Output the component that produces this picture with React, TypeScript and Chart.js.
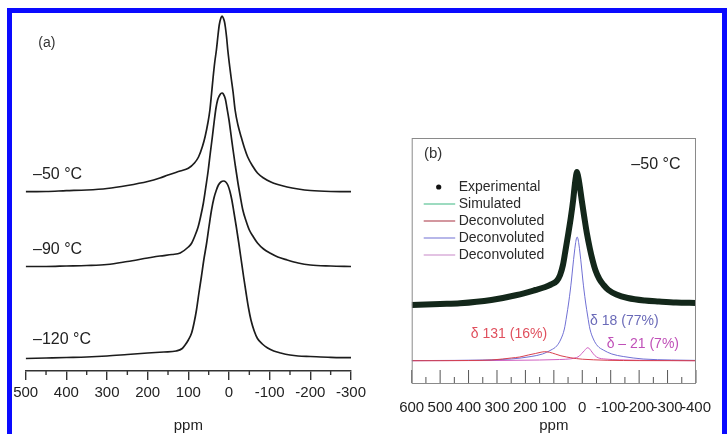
import React, { useEffect, useRef } from 'react';
import { Chart, registerables } from 'chart.js';
Chart.register(...registerables);

const FONT = '"Liberation Sans", Arial, Helvetica, sans-serif';

// ---------- Panel (a): spectra at three temperatures ----------
const ticksA = [500, 400, 300, 200, 100, 0, -100, -200, -300];
const minorA = [450, 350, 250, 150, 50, -50, -150, -250];

const a50Ppm = [500, 450, 400, 350, 300, 250, 200, 170, 150, 120, 100, 85, 75, 65, 59, 52, 47, 43, 39, 35, 31, 27, 24, 20, 17, 14, 11, 9, 6, 3, -5, -10, -15, -22, -30, -38, -46, -58, -70, -85, -103, -120, -143, -170, -200, -250, -300];
const a50Int = [179.3, 179.5, 180.3, 181, 182.5, 185.5, 189.5, 193, 196, 200, 202.7, 208, 214, 225, 234, 248, 261, 277, 294, 309, 321, 336, 346, 353, 355, 353, 349, 344, 334, 321, 294, 279, 261, 246, 234, 223, 214, 205, 198, 193, 189, 186.5, 184, 182, 180.5, 179.5, 179.3];

const a90Ppm = [500, 450, 400, 350, 300, 250, 200, 170, 140, 120, 100, 92, 84, 76, 70, 63, 57, 51, 46, 41, 36, 32, 28, 24, 20, 17, 14, 9, 5, 0, -5, -10, -16, -22, -28, -34, -42, -50, -60, -70, -85, -103, -120, -143, -170, -200, -250, -300];
const a90Int = [104.5, 104.5, 105, 105.5, 106.5, 109.5, 113, 115, 116.5, 118, 124, 127.7, 135, 144, 154, 168, 184, 201, 218, 234, 251, 263, 271, 275, 277.5, 278, 277, 272, 263, 251, 236, 221, 204, 188, 174, 161, 150, 141, 134, 128, 122, 117.5, 114, 111, 108, 106, 105, 104.5];

const a120Ppm = [500, 450, 400, 350, 300, 250, 200, 160, 130, 115, 108, 100, 92, 86, 80, 74, 68, 62, 55, 49, 43, 37, 31, 26, 20, 13, 8, 3, -2, -7, -12, -18, -24, -30, -36, -42, -48, -54, -62, -70, -82, -95, -110, -127, -150, -170, -200, -250, -300];
const a120Int = [12.5, 13, 13.5, 14, 15, 16.5, 18, 19, 20, 22.5, 26, 31, 38, 48, 61, 78, 94, 111, 128, 145, 161, 173, 181, 186, 189, 190, 189, 186, 180, 171, 159, 144, 128, 111, 94, 78, 63, 51, 40, 32.5, 27, 23, 20, 18, 16, 15, 14.5, 13.7, 13.3];

// ---------- Panel (b): -50 °C with deconvolution ----------
const ticksB = [600, 500, 400, 300, 200, 100, 0, -100, -200, -300, -400];
const minorB = [550, 450, 350, 250, 150, 50, -50, -150, -250, -350];

const expPpm = [600, 500, 430, 320, 230, 165, 130, 110, 90, 78, 68, 60, 50, 40, 32, 26, 22, 19, 15, 10, 2, -7, -16, -27, -36, -46, -60, -75, -92, -120, -160, -220, -270, -330, -400];
const expInt = [78, 79, 79.7, 83, 88, 93, 96, 98.5, 102, 108, 118, 131, 148, 166, 183, 199, 207, 211, 207, 199, 183, 166, 150, 134, 123, 113, 104, 98, 93, 88.5, 85, 82.5, 81.5, 80.5, 80];

const simPpm = [600, 500, 430, 320, 230, 165, 130, 110, 90, 78, 68, 60, 50, 40, 32, 26, 22, 19, 15, 10, 2, -7, -16, -27, -36, -46, -60, -75, -92, -120, -160, -220, -270, -330, -400];
const simInt = [78, 79, 79.7, 83, 88, 93, 96, 98.5, 102, 108, 118, 131, 148, 166, 183, 199, 207, 211, 207, 199, 183, 166, 150, 134, 123, 113, 104, 98, 93, 88.5, 85, 82.5, 81.5, 80.5, 80];

const redPpm = [600, 400, 320, 280, 250, 220, 190, 165, 145, 132, 115, 95, 75, 55, 40, 20, 0, -40, -90, -200, -400];
const redInt = [22.3, 22.5, 23, 24, 25, 26, 28, 29.5, 30.8, 31.3, 30.7, 29, 27.2, 26, 25.2, 24.4, 23.8, 23.2, 22.7, 22.4, 22.3];

const bluePpm = [600, 450, 350, 250, 180, 140, 110, 90, 75, 63, 55, 48, 42, 38, 33, 28, 24, 21, 18, 15, 12, 8, 3, -2, -6, -12, -19, -27, -39, -54, -74, -104, -144, -214, -314, -400];
const blueInt = [22.4, 22.6, 23, 24, 26.5, 29, 33, 37, 44, 54, 67, 80, 93, 103, 117, 130, 139, 144, 146, 144, 139, 130, 117, 103, 93, 80, 67, 54, 44, 37, 33, 29, 26.5, 24, 23, 22.6];

const pinkPpm = [600, 300, 150, 80, 40, 20, 10, 2, -8, -14, -20, -26, -34, -44, -56, -80, -130, -250, -400];
const pinkInt = [22.3, 22.5, 23, 23.5, 24.2, 25.5, 27, 29.5, 32.5, 34.5, 35.3, 34, 31, 27.5, 25.2, 24, 23.2, 22.6, 22.3];

const legendLabels = ['Experimental', 'Simulated', 'Deconvoluted', 'Deconvoluted', 'Deconvoluted'];

const C_EXP = '#13271a';
const C_SIM = '#2e8a5c';
const C_RED = '#d8404e';
const C_BLUE = '#7070d4';
const C_PINK = '#d060c0';

function pts(xs: number[], ys: number[]) {
  return xs.map((x, i) => ({ x, y: ys[i] }));
}

type Note = { text: string; x: number; y: number; color: string; size: number; align: CanvasTextAlign };

const notesPlugin = {
  id: 'notes',
  afterDraw(chart: any, _a: any, opts: any) {
    const { ctx, scales } = chart;
    (opts.items || []).forEach((n: Note) => {
      ctx.save();
      ctx.font = `${n.size}px ${FONT}`;
      ctx.fillStyle = n.color;
      ctx.textAlign = n.align;
      ctx.textBaseline = 'middle';
      ctx.fillText(n.text, scales.x.getPixelForValue(n.x), scales.y.getPixelForValue(n.y));
      ctx.restore();
    });
  },
};

const extraTicksPlugin = {
  id: 'extraTicks',
  afterDraw(chart: any, _a: any, opts: any) {
    const { ctx, chartArea, scales } = chart;
    ctx.save();
    ctx.strokeStyle = opts.color;
    ctx.lineWidth = opts.width;
    (opts.sets || []).forEach((s: any) => {
      s.values.forEach((v: number) => {
        const px = scales.x.getPixelForValue(v);
        ctx.beginPath();
        ctx.moveTo(px, chartArea.bottom);
        ctx.lineTo(px, chartArea.bottom + s.len);
        ctx.stroke();
      });
    });
    if (opts.frame) {
      ctx.strokeStyle = opts.frame;
      ctx.lineWidth = 1;
      ctx.strokeRect(chartArea.left + 0.5, chartArea.top + 0.5, chartArea.right - chartArea.left - 1, chartArea.bottom - chartArea.top);
    }
    ctx.restore();
  },
};

const legendPlugin = {
  id: 'innerLegend',
  afterDraw(chart: any, _a: any, opts: any) {
    if (!opts.rows) return;
    const { ctx, chartArea } = chart;
    ctx.save();
    ctx.font = `14px ${FONT}`;
    ctx.textBaseline = 'middle';
    ctx.textAlign = 'left';
    opts.rows.forEach((r: any, i: number) => {
      const y = chartArea.top + 49 + i * 17;
      const x0 = chartArea.left + 12;
      if (r.kind === 'dot') {
        ctx.fillStyle = r.color;
        ctx.beginPath();
        ctx.arc(x0 + 15, y, 2.6, 0, Math.PI * 2);
        ctx.fill();
      } else {
        ctx.strokeStyle = r.color;
        ctx.lineWidth = 1.2;
        ctx.beginPath();
        ctx.moveTo(x0, y);
        ctx.lineTo(x0 + 31.5, y);
        ctx.stroke();
      }
      ctx.fillStyle = '#2a2a2a';
      ctx.fillText(r.label, x0 + 35, y + 0.5);
    });
    ctx.restore();
  },
};

function line(data: any, color: string, width: number) {
  return {
    data,
    borderColor: color,
    borderWidth: width,
    pointRadius: 0,
    fill: false,
    cubicInterpolationMode: 'monotone' as const,
  };
}

function PanelA() {
  const ref = useRef<HTMLCanvasElement>(null);
  useEffect(() => {
    const chart = new Chart(ref.current!, {
      type: 'line',
      data: {
        datasets: [
          line(pts(a50Ppm, a50Int), '#1c1c1c', 1.7),
          line(pts(a90Ppm, a90Int), '#1c1c1c', 1.7),
          line(pts(a120Ppm, a120Int), '#1c1c1c', 1.7),
        ] as any,
      },
      options: {
        animation: false,
        responsive: false,
        devicePixelRatio: 1,
        events: [],
        layout: { padding: { left: 25.7, right: 15.7, top: 10, bottom: 0 } },
        scales: {
          x: {
            type: 'linear',
            min: -300,
            max: 500,
            reverse: true,
            afterBuildTicks: (s: any) => { s.ticks = ticksA.map((v) => ({ value: v })); },
            ticks: { autoSkip: false, maxRotation: 0, padding: 4, color: '#222', font: { family: FONT, size: 15 }, callback: (v: any) => String(v) },
            grid: { display: true, drawOnChartArea: false, drawTicks: true, tickLength: 9, color: '#333', lineWidth: 1.4 },
            border: { display: true, color: '#333', width: 1.4 },
            title: { display: true, text: 'ppm', color: '#222', font: { family: FONT, size: 15 }, padding: { top: 11, bottom: 0 } },
          },
          y: { type: 'linear', display: false, min: 0, max: 361 },
        },
        plugins: {
          legend: { display: false },
          tooltip: { enabled: false },
          title: { display: false },
          extraTicks: { color: '#333', width: 1.4, sets: [{ values: minorA, len: 4 }] },
          notes: {
            items: [
              { text: '(a)', x: 448, y: 328, color: '#333', size: 14, align: 'center' },
              { text: '\u201350 \u00b0C', x: 482, y: 196, color: '#222', size: 16, align: 'left' },
              { text: '\u201390 \u00b0C', x: 482, y: 121, color: '#222', size: 16, align: 'left' },
              { text: '\u2013120 \u00b0C', x: 482, y: 31, color: '#222', size: 16, align: 'left' },
            ],
          },
        } as any,
      },
      plugins: [extraTicksPlugin, notesPlugin],
    });
    return () => chart.destroy();
  }, []);
  return <canvas ref={ref} width={370} height={435} style={{ position: 'absolute', left: 0, top: 0 }} />;
}

function PanelB() {
  const ref = useRef<HTMLCanvasElement>(null);
  useEffect(() => {
    const chart = new Chart(ref.current!, {
      type: 'line',
      data: {
        datasets: [
          line(pts(expPpm, expInt), C_EXP, 6),
          line(pts(simPpm, simInt), C_SIM, 1.5),
          line(pts(redPpm, redInt), C_RED, 1),
          line(pts(bluePpm, blueInt), C_BLUE, 1),
          line(pts(pinkPpm, pinkInt), C_PINK, 1),
        ] as any,
      },
      options: {
        animation: false,
        responsive: false,
        devicePixelRatio: 1,
        events: [],
        layout: { padding: { left: 41.7, right: 15.3, top: 138, bottom: 0 } },
        scales: {
          x: {
            type: 'linear',
            min: -400,
            max: 600,
            reverse: true,
            afterBuildTicks: (s: any) => { s.ticks = ticksB.map((v) => ({ value: v })); },
            ticks: { autoSkip: false, maxRotation: 0, padding: 16, color: '#222', font: { family: FONT, size: 15 }, callback: (v: any) => String(v) },
            grid: { display: false, drawTicks: false },
            border: { display: false },
            title: { display: true, text: 'ppm', color: '#222', font: { family: FONT, size: 15 }, padding: { top: -16, bottom: 0 } },
          },
          y: { type: 'linear', display: false, min: 0, max: 245 },
        },
        plugins: {
          legend: { display: false },
          tooltip: { enabled: false },
          title: { display: false },
          extraTicks: {
            color: '#555',
            width: 1,
            frame: '#8a8a8a',
            sets: [
              { values: ticksB, len: -13 },
              { values: minorB, len: -6 },
            ],
          },
          innerLegend: {
            rows: [
              { label: legendLabels[0], kind: 'dot', color: '#111' },
              { label: legendLabels[1], kind: 'line', color: '#3cb882' },
              { label: legendLabels[2], kind: 'line', color: '#a83040' },
              { label: legendLabels[3], kind: 'line', color: C_BLUE },
              { label: legendLabels[4], kind: 'line', color: '#c888c8' },
            ],
          },
          notes: {
            items: [
              { text: '(b)', x: 557, y: 229, color: '#333', size: 15, align: 'left' },
              { text: '\u201350 \u00b0C', x: -259, y: 218, color: '#222', size: 16, align: 'center' },
              { text: '\u03b4 131 (16%)', x: 258, y: 49, color: '#e0505e', size: 14, align: 'center' },
              { text: '\u03b4 18 (77%)', x: -148, y: 62, color: '#6a6ab8', size: 14, align: 'center' },
              { text: '\u03b4 \u2013 21 (7%)', x: -213, y: 39, color: '#c050b8', size: 14, align: 'center' },
            ],
          },
        } as any,
      },
      plugins: [extraTicksPlugin, legendPlugin, notesPlugin],
    });
    return () => chart.destroy();
  }, []);
  return <canvas ref={ref} width={357} height={435} style={{ position: 'absolute', left: 370, top: 0 }} />;
}

export default function App() {
  return (
    <div style={{ position: 'absolute', left: 0, top: 0, width: 727, height: 434, overflow: 'hidden', background: '#fff' }}>
      <PanelA />
      <PanelB />
      <div
        style={{
          position: 'absolute',
          left: 7,
          top: 8,
          width: 720,
          height: 440,
          boxSizing: 'border-box',
          border: '5px solid #0a0aff',
          borderBottom: 'none',
          pointerEvents: 'none',
        }}
      />
    </div>
  );
}
